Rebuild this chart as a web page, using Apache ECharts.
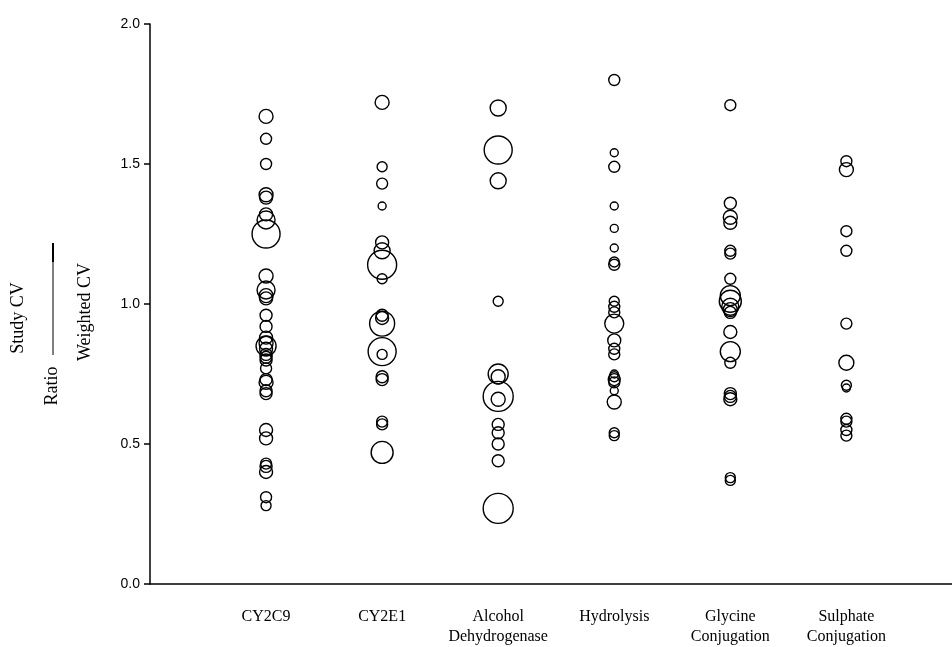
<!DOCTYPE html>
<html>
<head>
<meta charset="utf-8">
<script src="https://cdn.jsdelivr.net/npm/echarts@6/dist/echarts.min.js"></script>
<style>
	html, body { margin: 0; padding: 0; background: #fff; }
	#chart { width: 952px; height: 647px; }
</style>
</head>
<body>
<div id="chart"></div>
<script>
// Categorías del eje X
const categorias = ['CY2C9', 'CY2E1', 'Alcohol\nDehydrogenase', 'Hydrolysis', 'Glycine\nConjugation', 'Sulphate\nConjugation']

// Ratio (Study CV / Weighted CV) y tamaño de burbuja por grupo
const cy2c9Valores = [1.67, 1.59, 1.50, 1.39, 1.38, 1.32, 1.30, 1.25, 1.10, 1.05, 1.03, 1.02, 0.96, 0.92, 0.88, 0.86, 0.85, 0.84, 0.82, 0.81, 0.80, 0.77, 0.73, 0.72, 0.69, 0.68, 0.55, 0.52, 0.43, 0.42, 0.40, 0.31, 0.28]
const cy2c9Tamaños = [14, 11, 11, 14, 13, 13, 18, 28, 14, 18, 14, 13, 12, 12, 13, 14, 20, 13, 12, 12, 12, 11, 12, 14, 12, 12, 13, 13, 11, 12, 13, 11, 10]

const cy2e1Valores = [1.72, 1.49, 1.43, 1.35, 1.22, 1.19, 1.14, 1.09, 0.96, 0.95, 0.93, 0.83, 0.82, 0.74, 0.73, 0.58, 0.57, 0.47]
const cy2e1Tamaños = [14, 10, 11, 8, 13, 16, 29, 10, 12, 13, 25, 28, 10, 12, 12, 11, 11, 22]

const alcoholValores = [1.70, 1.55, 1.44, 1.01, 0.75, 0.74, 0.67, 0.66, 0.57, 0.54, 0.50, 0.44, 0.27]
const alcoholTamaños = [16, 28, 16, 10, 20, 14, 30, 14, 12, 12, 12, 12, 30]

const hidrolisisValores = [1.80, 1.54, 1.49, 1.35, 1.27, 1.20, 1.15, 1.14, 1.01, 0.99, 0.97, 0.93, 0.87, 0.84, 0.82, 0.75, 0.74, 0.73, 0.72, 0.69, 0.65, 0.54, 0.53]
const hidrolisisTamaños = [11, 8, 11, 8, 8, 8, 10, 11, 10, 11, 11, 19, 13, 11, 11, 8, 10, 12, 11, 8, 14, 10, 10]

const glicinaValores = [1.71, 1.36, 1.31, 1.29, 1.19, 1.18, 1.09, 1.03, 1.01, 0.99, 0.98, 0.97, 0.90, 0.83, 0.79, 0.68, 0.67, 0.66, 0.38, 0.37]
const glicinaTamaños = [11, 12, 14, 13, 11, 11, 11, 20, 22, 17, 14, 12, 13, 20, 11, 12, 12, 13, 10, 10]

const sulfatoValores = [1.51, 1.48, 1.26, 1.19, 0.93, 0.79, 0.71, 0.70, 0.59, 0.58, 0.55, 0.53]
const sulfatoTamaños = [11, 14, 11, 11, 11, 15, 10, 8, 11, 11, 11, 11]

// Valores del eje Y
const ticksY = [0, 0.5, 1.0, 1.5, 2.0]

const grupos = [
	[cy2c9Valores, cy2c9Tamaños],
	[cy2e1Valores, cy2e1Tamaños],
	[alcoholValores, alcoholTamaños],
	[hidrolisisValores, hidrolisisTamaños],
	[glicinaValores, glicinaTamaños],
	[sulfatoValores, sulfatoTamaños],
]

const chart = echarts.init(document.getElementById('chart'))

// Cada grupo es una serie scatter con círculos vacíos
const series = grupos.map(([valores, tamaños], i) => ({
	type: 'scatter',
	symbol: 'circle',
	data: valores.map((v, j) => ({ value: [i + 1, v], symbolSize: tamaños[j] })),
	itemStyle: {
		color: 'rgba(0,0,0,0)',
		borderColor: '#000',
		borderWidth: 1.4,
		opacity: 1,
	},
	emphasis: { disabled: true },
	silent: true,
}))

const fuenteSerif = '"Liberation Serif", "DejaVu Serif", serif'

chart.setOption({
	animation: false,
	backgroundColor: '#fff',
	grid: { left: 150, right: 0, top: 24, bottom: 61 },
	xAxis: {
		type: 'value',
		min: 0,
		max: 6.91,
		interval: 1,
		axisLine: { lineStyle: { color: '#000', width: 1.5 } },
		axisTick: { show: false },
		splitLine: { show: false },
		axisLabel: {
			showMaxLabel: false,
			margin: 23,
			fontFamily: fuenteSerif,
			fontSize: 16,
			color: '#000',
			lineHeight: 20,
			verticalAlign: 'top',
			formatter: (v) => categorias[Math.round(v) - 1] || '',
		},
	},
	yAxis: {
		type: 'value',
		min: ticksY[0],
		max: ticksY[ticksY.length - 1],
		interval: 0.5,
		axisLine: { show: true, lineStyle: { color: '#000', width: 1.5 } },
		axisTick: { show: true, length: 6, lineStyle: { color: '#000', width: 1.5 } },
		splitLine: { show: false },
		axisLabel: {
			margin: 10,
			fontFamily: '"Liberation Sans", Arial, sans-serif',
			fontSize: 14,
			color: '#000',
			formatter: (v) => v.toFixed(1),
		},
	},
	graphic: [
		{
			type: 'text', x: 18, y: 318, rotation: Math.PI / 2,
			style: { text: 'Study CV', font: '18px ' + fuenteSerif, fill: '#000', align: 'center', verticalAlign: 'middle' },
		},
		{
			type: 'text', x: 52, y: 386, rotation: Math.PI / 2,
			style: { text: 'Ratio', font: '18px ' + fuenteSerif, fill: '#000', align: 'center', verticalAlign: 'middle' },
		},
		{
			type: 'text', x: 85, y: 312, rotation: Math.PI / 2,
			style: { text: 'Weighted CV', font: '18px ' + fuenteSerif, fill: '#000', align: 'center', verticalAlign: 'middle' },
		},
		{
			type: 'line',
			shape: { x1: 53, y1: 243, x2: 53, y2: 355 },
			style: { stroke: '#000', lineWidth: 1 },
		},
		{
			type: 'line',
			shape: { x1: 53, y1: 243, x2: 53, y2: 262 },
			style: { stroke: '#000', lineWidth: 2 },
		},
	],
	series,
})
</script>
</body>
</html>
